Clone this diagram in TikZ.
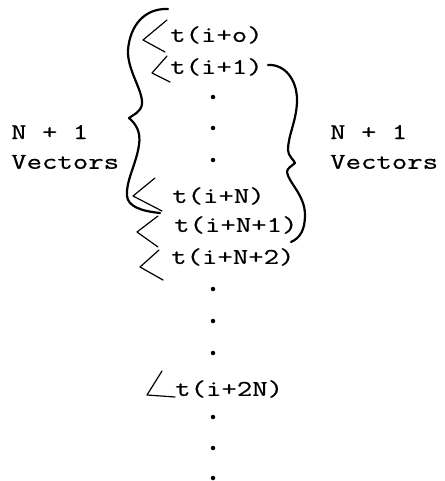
\documentclass[tikz,border=0pt]{standalone}
\usepackage{fontspec}
\setmonofont{Latin Modern Mono}[FakeStretch=1.33,FakeBold=0.6]
\begin{document}
\begin{tikzpicture}[x=1pt,y=-1pt,
  lbl/.style={anchor=west,inner sep=0pt,font=\ttfamily\fontsize{22.5}{22.5}\selectfont},
  dotmark/.style={circle,fill=black,inner sep=0pt,minimum size=4.5pt},
  anglemark/.style={line width=1.2pt,line cap=round,line join=round},
  bracemark/.style={line width=2.2pt,line cap=round,line join=round}]
\useasboundingbox (0,0) rectangle (444,481);
% terms
\node[lbl] (a0)  at (170,35)  {t(i+o)};
\node[lbl] (a1)  at (170,67)  {t(i+1)};
\node[lbl] (aN)  at (172,196) {t(i+N)};
\node[lbl] (aN1) at (174,225) {t(i+N+1)};
\node[lbl] (aN2) at (171,257) {t(i+N+2)};
\node[lbl] (a2N) at (175,389) {t(i+2N)};
% labels
\node[lbl] (l1) at (11,132) {N + 1};
\node[lbl] (l2) at (11,162) {Vectors};
\node[lbl] (r1) at (330,132) {N + 1};
\node[lbl] (r2) at (330,162) {Vectors};
% dots
\foreach \y [count=\i] in {97,128,160,289,321,353,417,448,478}
  \node[dotmark] (d\i) at (213,\y) {};
% angle marks
\draw[anglemark] (167,20) -- (143,40) -- (165,52);
\draw[anglemark] (167,56) -- (152,73) -- (170,82);
\draw[anglemark] (155,178) -- (133,196) -- (162,211);
\draw[anglemark] (158,216) -- (137,232) -- (158,247);
\draw[anglemark] (159,250) -- (140,267) -- (163,280);
\draw[anglemark] (162,371) -- (147,395) -- (175,397);
% left brace
\draw[bracemark] (168,9) .. controls (145,8) and (130,25) .. (128,50)
  .. controls (127,70) and (143,90) .. (142,104)
  .. controls (141,112) and (133,115) .. (129,118)
  .. controls (136,124) and (141,132) .. (139,145)
  .. controls (136,165) and (126,180) .. (127,196)
  .. controls (128,206) and (140,211) .. (160,213);
% right brace
\draw[bracemark] (268,65) .. controls (285,64) and (297,80) .. (297,100)
  .. controls (297,120) and (288,135) .. (288,150)
  .. controls (288,156) and (294,160) .. (295,163)
  .. controls (292,166) and (287,168) .. (287,172)
  .. controls (288,182) and (305,195) .. (305,215)
  .. controls (305,230) and (300,238) .. (291,242);
\end{tikzpicture}
\end{document}
